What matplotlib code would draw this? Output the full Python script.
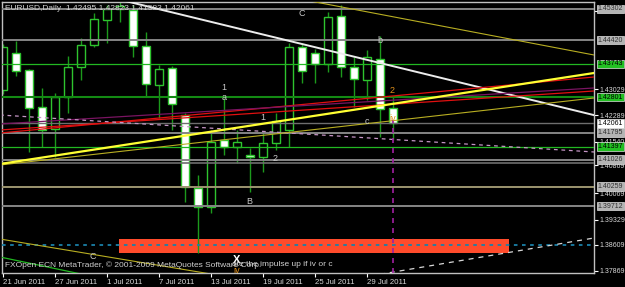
import numpy as np
import matplotlib.pyplot as plt
from matplotlib.patches import Rectangle

plt.rcParams['font.family'] = ['Liberation Sans', 'DejaVu Sans']

# EURUSD daily bars, 21 Jun 2011 - 2 Aug 2011
opens  = [1.4300, 1.4405, 1.4357, 1.4252, 1.4190, 1.4280, 1.4365, 1.4428, 1.4499, 1.4530,
          1.4527, 1.4425, 1.4314, 1.4363, 1.4229, 1.4022, 1.3968, 1.4158, 1.4139, 1.4116,
          1.4110, 1.4150, 1.4187, 1.4422, 1.4405, 1.4374, 1.4510, 1.4365, 1.4329, 1.4388, 1.42495]
highs  = [1.4431, 1.4439, 1.4360, 1.4306, 1.4292, 1.4397, 1.4448, 1.4519, 1.4541, 1.4550,
          1.4541, 1.4465, 1.4371, 1.4368, 1.4235, 1.4059, 1.4187, 1.4278, 1.4187, 1.4136,
          1.4178, 1.4235, 1.4433, 1.4433, 1.4416, 1.4521, 1.4541, 1.4394, 1.4414, 1.4453, 1.42823]
lows   = [1.4290, 1.4340, 1.4124, 1.4139, 1.4110, 1.4235, 1.4329, 1.4422, 1.4434, 1.4493,
          1.4394, 1.4283, 1.4221, 1.4187, 1.3983, 1.3838, 1.3951, 1.4116, 1.4093, 1.4011,
          1.4068, 1.4130, 1.4139, 1.4320, 1.4320, 1.4351, 1.4337, 1.4252, 1.4272, 1.4167, 1.41583]
closes = [1.4422, 1.4354, 1.4249, 1.4187, 1.4280, 1.4365, 1.4428, 1.4502, 1.4530, 1.4538,
          1.4425, 1.4317, 1.4360, 1.4260, 1.4025, 1.3968, 1.4153, 1.4139, 1.4153, 1.4110,
          1.4150, 1.4212, 1.4422, 1.4354, 1.4374, 1.4507, 1.4365, 1.4331, 1.4394, 1.4246, 1.42061]

date_pos = [0, 4, 8, 12, 16, 20, 24, 28]
date_labels = ['21 Jun 2011', '27 Jun 2011', '1 Jul 2011', '7 Jul 2011',
               '13 Jul 2011', '19 Jul 2011', '25 Jul 2011', '29 Jul 2011']

# price scale
scale_ticks = [1.45245, 1.43029, 1.42289, 1.41540, 1.40869, 1.40069, 1.39329, 1.38609, 1.37869]
grey_levels = [1.45302, 1.44420, 1.41795, 1.41026, 1.39712]
green_levels = [1.43743, 1.41397]
main_level = 1.42801
sand_level = 1.40259
bid_level = 1.42061
teal_level = 1.38609

# trend lines: (bar0, price0, bar1, price1)
white_line = (9.15, 1.4555, 45.46, 1.4229)
yellow_line = (-0.23, 1.40903, 45.46, 1.43484)
red_lines = [(-0.23, 1.41782, 45.46, 1.43371), (-0.23, 1.41868, 45.46, 1.42974)]
purple_line = (-0.23, 1.42038, 45.46, 1.43059)
lavender_line = (-0.23, 1.42293, 45.46, 1.41244)
olive_lines = [(-0.23, 1.40875, 45.46, 1.42775), (23.23, 1.45554, 45.46, 1.43995),
               (-0.23, 1.38776, 18.23, 1.37647)]
green_line = (-0.23, 1.38266, 7.46, 1.37670)
white_dash = (28.23, 1.37727, 45.46, 1.38805)
vline_bar, vline_top = 30, 1.42151

# target zone
zone_x0, zone_x1 = 8.92, 38.92
zone_p0, zone_p1 = 1.38379, 1.38776

# wave labels
wave_text = ['C', 'b', '2', 'c', '1', 'a', '1', '2', 'B', 'C', 'X', 'iv', 'iv']
wave_x = [23.0, 29.0, 29.92, 28.0, 17.0, 17.0, 20.0, 20.92, 18.92, 6.92, 18.0, 18.0, 30.0]
wave_p = [1.45186, 1.44392, 1.42974, 1.42095, 1.43059, 1.42803, 1.42236, 1.41073,
          1.39826, 1.38266, 1.38181, 1.37869, 1.42180]

fig = plt.figure(figsize=(6.25, 2.87), dpi=100, facecolor='black')
ax = fig.add_axes([2 / 625, 14 / 287, 592 / 625, 271 / 287])
ax.set_facecolor('black')
ax.set_xlim(-0.077, 45.46)
ax.set_ylim(1.37812, 1.45498)

# zone behind candles
ax.add_patch(Rectangle((zone_x0, zone_p0), zone_x1 - zone_x0, zone_p1 - zone_p0,
                       facecolor='#ff4b2b', edgecolor='none', zorder=1))

# candles
o = np.array(opens); c = np.array(closes)
x = np.arange(len(o))
bull = c >= o
ax.vlines(x, lows, highs, color='#1c9a1c', lw=1, zorder=2)
ax.bar(x, np.maximum(np.abs(c - o), 0.00008), bottom=np.minimum(o, c), width=0.6,
       color=np.where(bull, 'black', 'white'), edgecolor='#2ec42e', lw=1, zorder=2.5)

# horizontal levels
for p in grey_levels:
    ax.axhline(p, color='#858585', lw=1.4, zorder=3)
ax.axhline(bid_level, color='#6e6e6e', lw=1.0, zorder=3)
ax.axhline(sand_level, color='#9c9570', lw=1.4, zorder=3)
ax.axhline(1.40930, color='#6e6e6e', lw=1.2, zorder=3)
for p in green_levels:
    ax.axhline(p, color='#22b822', lw=0.9, zorder=3)
ax.axhline(main_level, color='#138a13', lw=1.5, zorder=3)
ax.axhline(teal_level, color='#1a80a8', lw=1.3, ls=(0, (2, 2.5)), zorder=3.5)


def seg(t, **kw):
    ax.plot([t[0], t[2]], [t[1], t[3]], zorder=4, **kw)


seg(white_line, color='#ececec', lw=1.4)
for t in red_lines:
    seg(t, color='#e01010', lw=0.9)
seg(purple_line, color='#7a1462', lw=0.9)
seg(lavender_line, color='#c595c5', lw=0.9, ls=(0, (3, 3)))
for t in olive_lines:
    seg(t, color='#b8ae22', lw=0.8)
seg(yellow_line, color='#ffff33', lw=1.6)
seg(green_line, color='#22b822', lw=0.9)
seg(white_dash, color='#d8d8d8', lw=0.9, ls=(0, (4, 4)))
ax.vlines(vline_bar, 1.37812, vline_top, color='#a020a0', lw=1.2,
          linestyles=(0, (3, 3)), zorder=4)

# wave labels
for t, xx, pp in zip(wave_text, wave_x, wave_p):
    col = '#c8c8c8'
    if (t == '2' and xx > 29) or t == 'iv':
        col = '#e0901c'
    w = 'bold' if t == 'X' else 'normal'
    sz = 8 if t == 'X' else 6.5
    ax.text(xx, pp, t, color=col if t != 'X' else 'white', fontsize=sz, fontweight=w,
            ha='center', va='center', zorder=6)

# axes styling
for s in ax.spines.values():
    s.set_color('#c0c0c0')
    s.set_linewidth(1)
ax.yaxis.tick_right()
ax.set_yticks(scale_ticks)
ax.set_yticklabels([f'{v:.5f}' for v in scale_ticks])
ax.tick_params(axis='y', colors='white', labelcolor='#d8d8d8', labelsize=5.0,
               length=3, width=0.8, pad=1)
ax.set_xticks(date_pos)
ax.set_xticklabels(date_labels, ha='left')
ax.tick_params(axis='x', colors='white', labelcolor='#d8d8d8', labelsize=5.6,
               length=3, width=0.8, pad=1)

# boxed price labels
ytr = ax.get_yaxis_transform()
boxes = [(1.45302, '#b4b4b4', '#303030'), (1.44420, '#b4b4b4', '#303030'),
         (1.43743, '#22c022', 'black'), (1.42801, '#22c022', 'black'),
         (1.42061, 'white', 'black'), (1.41795, '#b4b4b4', '#303030'),
         (1.41397, '#22c022', 'black'), (1.41026, '#b4b4b4', '#303030'),
         (1.40259, '#b4b4b4', '#303030'), (1.39712, '#b4b4b4', '#303030')]
for p, bg, fg in boxes:
    ax.text(1.006, p, f'{p:.5f}', transform=ytr, fontsize=5.0, color=fg, ha='left',
            va='center', clip_on=False, zorder=7,
            bbox=dict(boxstyle='square,pad=0.12', facecolor=bg, edgecolor='#e0e0e0', lw=0.5))

fig.text(5 / 625, 1 - 9 / 287, 'EURUSD,Daily  1.42495 1.42823 1.41583 1.42061',
         color='#d0d0d0', fontsize=6, va='center')
fig.text(5 / 625, 1 - 265 / 287,
         'FXOpen ECN MetaTrader, \u00a9 2001-2009 MetaQuotes Software Corp.',
         color='#d0d0d0', fontsize=6, va='center')
fig.text(232 / 625, 1 - 265 / 287, 'ate the impulse up if iv or c',
         color='#d0d0d0', fontsize=6, va='center')

fig.savefig('out.png', dpi=100, facecolor='black')
